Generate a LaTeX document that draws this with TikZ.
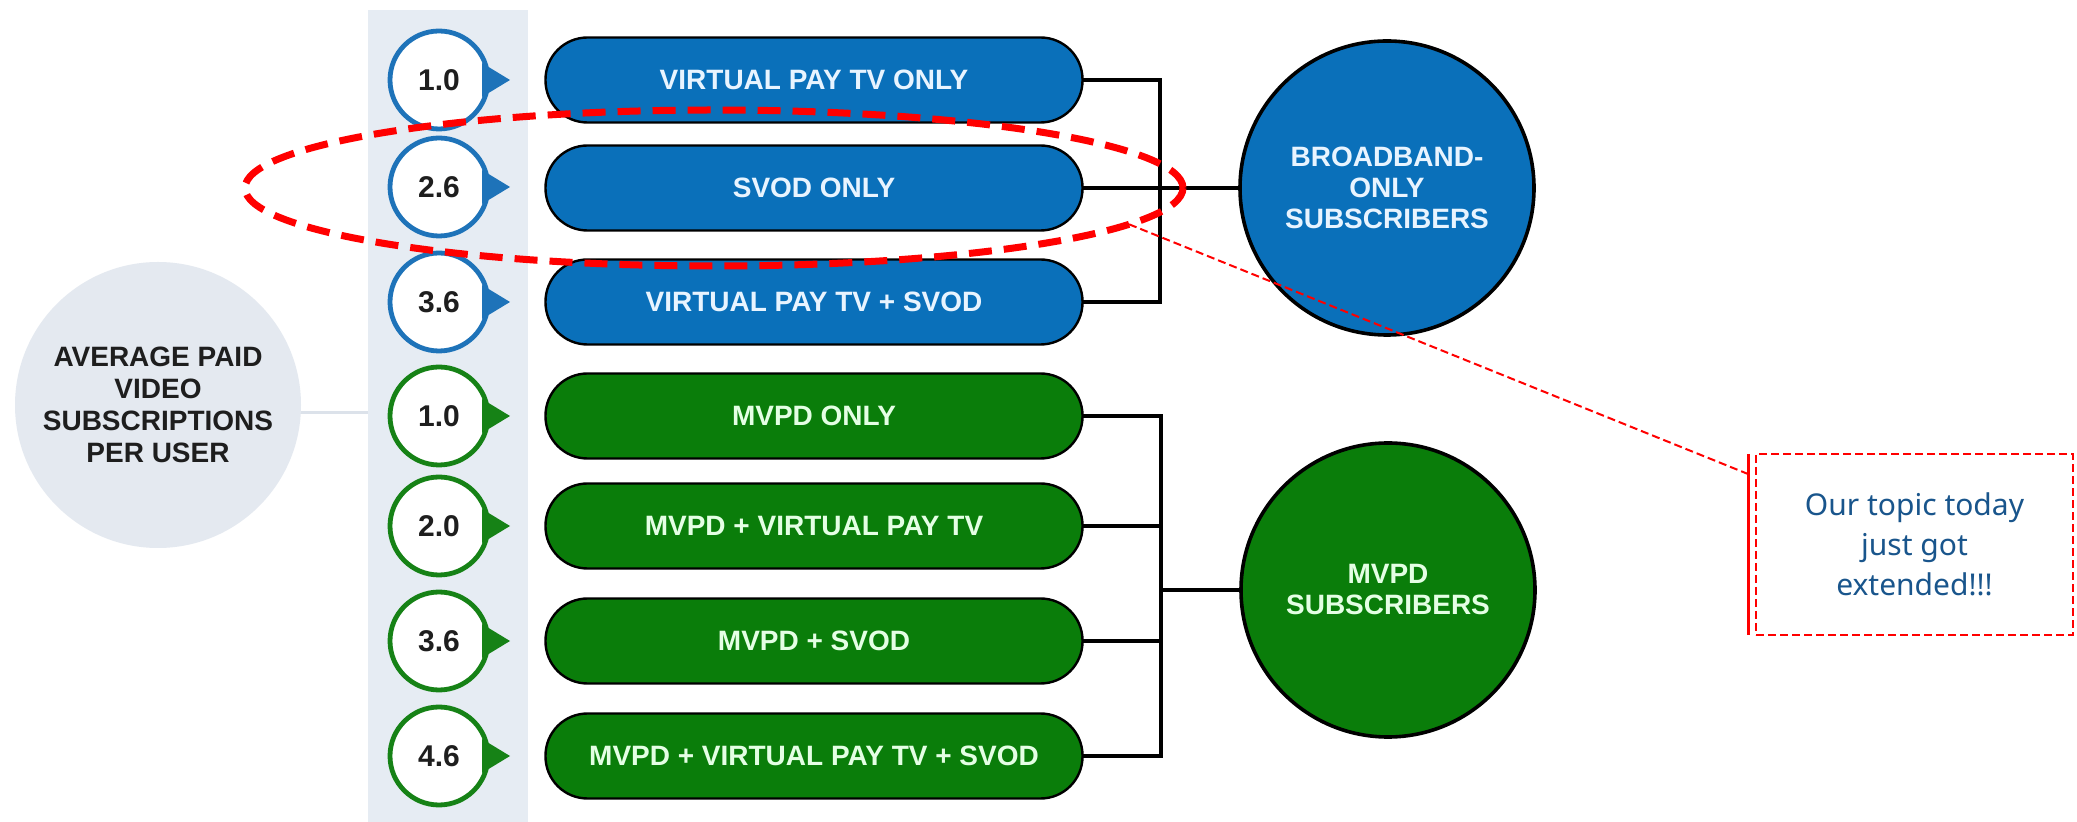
\documentclass[tikz,border=0pt]{standalone}
\usepackage{fontspec}
\setmainfont{Liberation Sans}
\newfontfamily\notefont{Noto Sans}
\usetikzlibrary{shapes.geometric}
\definecolor{bandc}{RGB}{230,236,243}
\definecolor{avgc}{RGB}{228,233,240}
\definecolor{linkc}{RGB}{220,226,234}
\definecolor{pblue}{RGB}{10,112,186}
\definecolor{pgreen}{RGB}{10,125,10}
\definecolor{rblue}{RGB}{30,115,185}
\definecolor{rgreen}{RGB}{22,130,22}
\definecolor{tblue}{RGB}{232,244,255}
\definecolor{tgreen}{RGB}{228,255,228}
\definecolor{numtxt}{RGB}{30,30,30}
\definecolor{notec}{RGB}{25,85,140}
\newcommand\mypointer[2]{\fill[#2] ([shift={(-3pt,8.5pt)}]#1.east) -- ([xshift=11pt]#1.east) -- ([shift={(-3pt,-8.5pt)}]#1.east) -- cycle;}
\begin{document}
\begin{tikzpicture}[x=0.5pt,y=-0.5pt,
  pill/.style={draw=black, line width=1.2pt, rounded corners=21pt, minimum width=268.5pt, minimum height=42.5pt, inner sep=0pt, outer sep=0pt, font=\fontsize{14}{16}\selectfont\bfseries},
  pillb/.style={pill, fill=pblue, text=tblue},
  pillg/.style={pill, fill=pgreen, text=tgreen},
  numc/.style={circle, line width=2.4pt, fill=white, minimum size=49pt, inner sep=0pt, outer sep=0pt, font=\fontsize{15}{15}\selectfont\bfseries, text=numtxt},
  numb/.style={numc, draw=rblue},
  numg/.style={numc, draw=rgreen},
  bigc/.style={circle, draw=black, line width=1.8pt, minimum size=147pt, inner sep=0pt, outer sep=0pt, align=center, font=\fontsize{14}{15.5}\selectfont\bfseries},
  bracket/.style={draw=black, line width=1.6pt},
]
\useasboundingbox[fill=white] (0,0) rectangle (2077,822);

% band and average circle
\node[fill=bandc, minimum width=80pt, minimum height=406pt, inner sep=0pt, outer sep=0pt] (band) at (448,416) {};
\coordinate (avgline) at (158,413);
\draw[linkc, line width=1.5pt] (avgline) -- (avgline -| band.west);
\node[circle, fill=avgc, minimum size=143pt, inner sep=0pt, outer sep=0pt, align=center, text=numtxt, font=\fontsize{14}{16}\selectfont\bfseries] (avg) at (158,405) {AVERAGE PAID\\VIDEO\\SUBSCRIPTIONS\\PER USER};

% number circles
\node[numb] (n1) at (439,80) {1.0};
\node[numb] (n2) at (439,187) {2.6};
\node[numb] (n3) at (439,302) {3.6};
\node[numg] (n4) at (439,416) {1.0};
\node[numg] (n5) at (439,526) {2.0};
\node[numg] (n6) at (439,641) {3.6};
\node[numg] (n7) at (439,756) {4.6};
\mypointer{n1}{rblue}
\mypointer{n2}{rblue}
\mypointer{n3}{rblue}
\mypointer{n4}{rgreen}
\mypointer{n5}{rgreen}
\mypointer{n6}{rgreen}
\mypointer{n7}{rgreen}

% pills
\node[pillb] (p1) at (814,80) {VIRTUAL PAY TV ONLY};
\node[pillb] (p2) at (814,188) {SVOD ONLY};
\node[pillb] (p3) at (814,302) {VIRTUAL PAY TV + SVOD};
\node[pillg] (p4) at (814,416) {MVPD ONLY};
\node[pillg] (p5) at (814,526) {MVPD + VIRTUAL PAY TV};
\node[pillg] (p6) at (814,641) {MVPD + SVOD};
\node[pillg] (p7) at (814,756) {MVPD + VIRTUAL PAY TV + SVOD};

% big circles
\node[bigc, fill=pblue, text=tblue] (bb) at (1387,188) {BROADBAND-\\ONLY\\SUBSCRIBERS};
\node[bigc, fill=pgreen, text=tgreen] (mb) at (1388,590) {MVPD\\SUBSCRIBERS};

% brackets
\coordinate (jb) at (1160,188);
\coordinate (jm) at (1161,590);
\draw[bracket] (p1.east) -| (jb) |- (p3.east);
\draw[bracket] (p2.east) -- (p2.east -| bb.west);
\draw[bracket] (p4.east) -| (jm) |- (p7.east);
\draw[bracket] (p5.east) -- (p5.east -| jm);
\draw[bracket] (p6.east) -- (p6.east -| jm);
\draw[bracket] (jm) -- (mb.west);

% red highlight
\node[draw=red, line width=3.5pt, dash pattern=on 11.5pt off 6pt, ellipse, minimum width=469pt, minimum height=78pt, inner sep=0pt, outer sep=0pt] (ell) at (714,188) {};

% callout
\node[draw=red, line width=1.4pt, dash pattern=on 4pt off 2pt, minimum width=158.5pt, minimum height=90.5pt, inner sep=0pt, outer sep=0pt, align=center, text=notec, font=\notefont\fontsize{15}{20}\selectfont] (co) at (1914.5,544.5) {Our topic today\\just got\\extended!!!};
\draw[red, line width=1.5pt] ([xshift=-4pt]co.north west) -- ([xshift=-4pt]co.south west);
\coordinate (cend) at ([shift={(-4pt,-10pt)}]co.north west);
\draw[red, line width=1pt, dash pattern=on 4pt off 2pt] (ell.-5) -- (cend);
\end{tikzpicture}
\end{document}
